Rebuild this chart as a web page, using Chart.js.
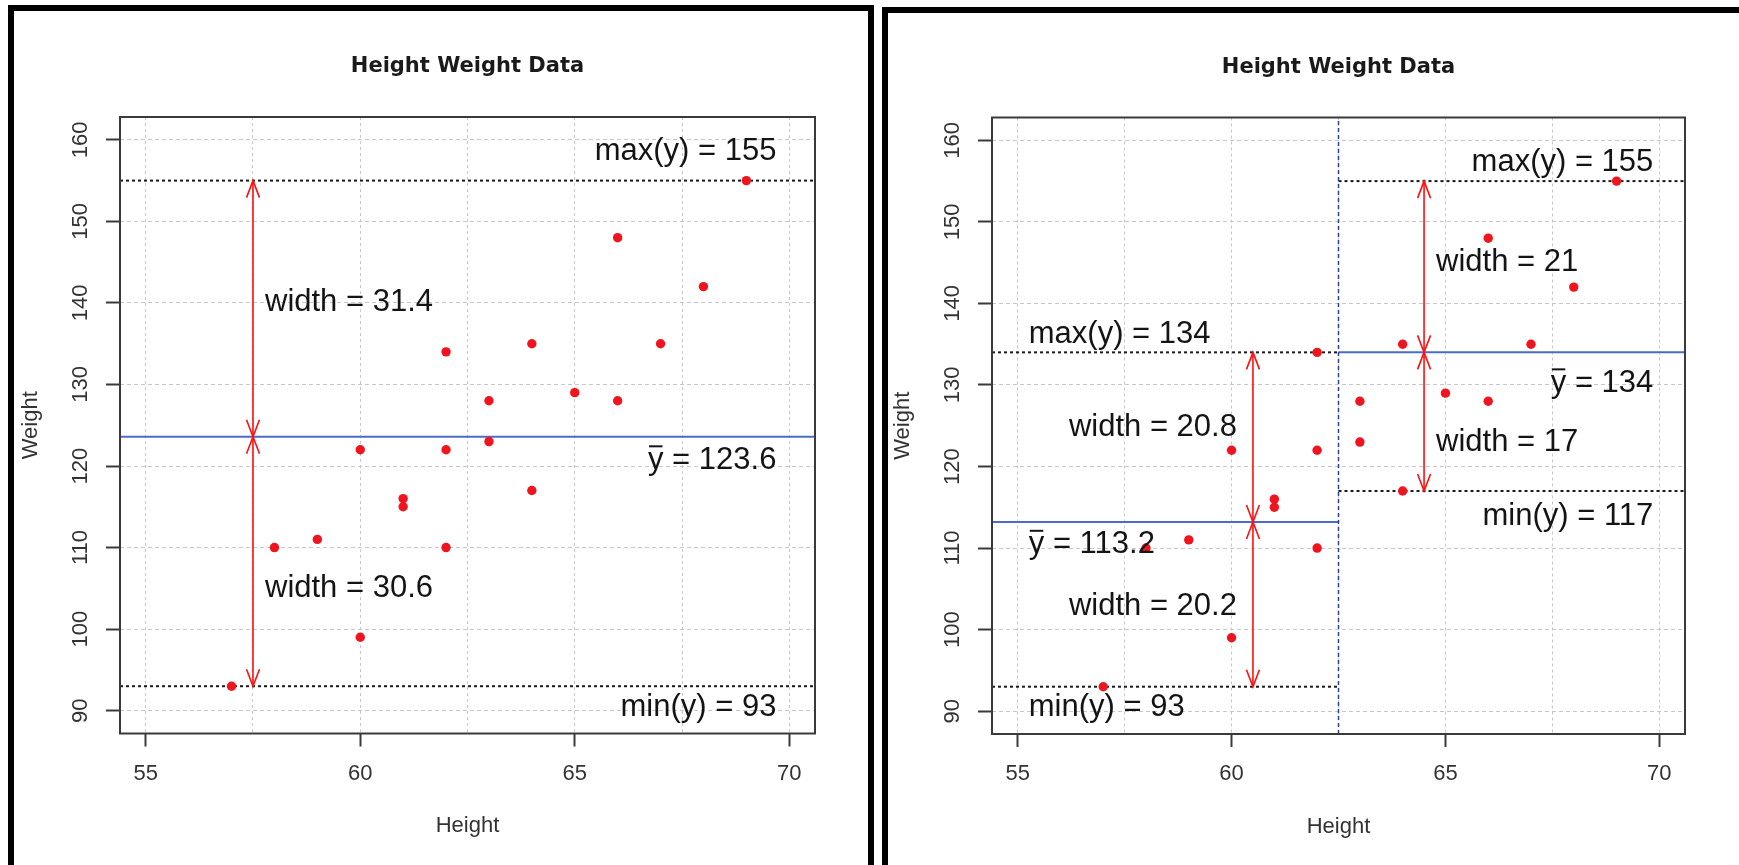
<!DOCTYPE html>
<html>
<head>
<meta charset="utf-8">
<title>Height Weight Data</title>
<script src="https://cdn.jsdelivr.net/npm/chart.js@4.4.1/dist/chart.umd.min.js"></script>
<style>
    html, body { margin: 0; padding: 0; background: #fff; overflow: hidden; }
    body { width: 1739px; height: 865px; position: relative; }
    .panel { position: absolute; border: 6px solid #000; box-sizing: border-box; }
    #leftPanel { left: 8px; top: 5px; width: 866px; height: 900px; }
    #rightPanel { left: 882px; top: 7px; width: 900px; height: 900px; }
    canvas { position: absolute; left: 0; top: 0; }
</style>
</head>
<body>
<div class="panel" id="leftPanel"><canvas id="leftChart" width="854" height="854"></canvas></div>
<div class="panel" id="rightPanel"><canvas id="rightChart" width="851" height="852"></canvas></div>
<script>
// 身高体重样本
const heights = [57, 58, 59, 60, 60, 61, 61, 62, 62, 62, 63, 63, 64, 64, 65, 66, 66, 67, 68, 69];
const weights = [93, 110, 111, 122, 99, 116, 115, 134, 122, 110, 128, 123, 135, 117, 129, 148, 128, 135, 142, 155];

// 坐标轴范围和刻度间隔
const xRange = [54.4, 70.6];
const yRange = [87.2, 162.8];
const xGridStep = 2.5;
const xLabelStep = 5;
const yTickStep = 10;

// 右图按身高分组的位置
const splitHeight = 62.5;

const FONT = '"Liberation Sans", Arial, sans-serif';

// 计算某一身高区间内体重的最大、最小和均值
function groupStats(from, to) {
    const vals = weights.filter((w, i) => heights[i] >= from && heights[i] < to);
    const sum = vals.reduce((a, b) => a + b, 0);
    return { max: Math.max(...vals), min: Math.min(...vals), mean: sum / vals.length };
}

// 保留一位小数，去掉多余的 .0
function fmt(v) {
    return String(Math.round(v * 10) / 10);
}

// 左图：全部样本
const leftGroups = [{
    from: xRange[0], to: xRange[1], arrowX: 57.5,
    maxLabel: { x: 69.7, y: 158.6, align: 'right' },
    meanLabel: { x: 69.7, y: 120.7, align: 'right' },
    minLabel: { x: 69.7, y: 90.4, align: 'right' },
    widthSide: 'right', upWidthY: 140, downWidthY: 105
}];

// 右图：以 62.5 为界分成两组
const rightGroups = [{
    from: xRange[0], to: splitHeight, arrowX: 60.5,
    maxLabel: { x: 55.26, y: 136.2, align: 'left' },
    meanLabel: { x: 55.26, y: 110.4, align: 'left' },
    minLabel: { x: 55.26, y: 90.4, align: 'left' },
    widthSide: 'left', upWidthY: 124.8, downWidthY: 102.8
}, {
    from: splitHeight, to: xRange[1], arrowX: 64.5,
    maxLabel: { x: 69.86, y: 157.3, align: 'right' },
    meanLabel: { x: 69.86, y: 130.2, align: 'right' },
    minLabel: { x: 69.86, y: 113.9, align: 'right' },
    widthSide: 'right', upWidthY: 145, downWidthY: 123
}];

leftGroups.concat(rightGroups).forEach(g => { g.stats = groupStats(g.from, g.to); });

// 水平参考线（两点连线）
function hline(from, to, v, color, dash) {
    return {
        data: [{ x: from, y: v }, { x: to, y: v }],
        showLine: true, pointRadius: 0, borderColor: color,
        borderWidth: 2, borderDash: dash, fill: false
    };
}

function refLines(groups) {
    const sets = [];
    groups.forEach(g => {
        sets.push(hline(g.from, g.to, g.stats.max, '#1a1a1a', [3, 3]));
        sets.push(hline(g.from, g.to, g.stats.min, '#1a1a1a', [3, 3]));
        sets.push(hline(g.from, g.to, g.stats.mean, '#4a6bc8', []));
    });
    return sets;
}

// 两端都带开口箭头的竖线
function arrowHead(ctx, px, tip, tail) {
    const dir = tail > tip ? 1 : -1;
    ctx.beginPath();
    ctx.moveTo(px - 6.5, tip + dir * 17);
    ctx.lineTo(px, tip);
    ctx.lineTo(px + 6.5, tip + dir * 17);
    ctx.stroke();
}

function drawArrow(ctx, px, yFrom, yTo) {
    ctx.beginPath();
    ctx.moveTo(px, yFrom);
    ctx.lineTo(px, yTo);
    ctx.stroke();
    arrowHead(ctx, px, yFrom, yTo);
    arrowHead(ctx, px, yTo, yFrom);
}

// 文字标注，bar 为真时在首字母 y 上加横线
function drawText(ctx, text, px, py, align, bar) {
    const w = ctx.measureText(text).width;
    const x0 = align === 'right' ? px - w : px;
    ctx.textAlign = 'left';
    ctx.textBaseline = 'middle';
    ctx.fillText(text, x0, py);
    if (bar) {
        const yw = ctx.measureText('y').width;
        ctx.save();
        ctx.strokeStyle = ctx.fillStyle;
        ctx.lineWidth = 2;
        ctx.beginPath();
        ctx.moveTo(x0 + 1, py - 14);
        ctx.lineTo(x0 + yw - 1, py - 14);
        ctx.stroke();
        ctx.restore();
    }
}

function overlay(groups) {
    return {
        id: 'overlay',
        afterDraw(chart) {
            const { ctx, chartArea: area, scales: { x, y } } = chart;
            ctx.save();

            // 坐标框
            ctx.strokeStyle = '#3a3a3a';
            ctx.lineWidth = 2;
            ctx.strokeRect(area.left, area.top, area.right - area.left, area.bottom - area.top);

            // y 轴刻度文字（竖排）
            ctx.fillStyle = '#333';
            ctx.font = '22px ' + FONT;
            ctx.textAlign = 'center';
            ctx.textBaseline = 'middle';
            y.ticks.forEach(t => {
                ctx.save();
                ctx.translate(area.left - 39, y.getPixelForValue(t.value));
                ctx.rotate(-Math.PI / 2);
                ctx.fillText(String(t.value), 0, 0);
                ctx.restore();
            });

            groups.forEach(g => {
                const s = g.stats;
                const ax = x.getPixelForValue(g.arrowX);
                const pMean = y.getPixelForValue(s.mean);

                ctx.strokeStyle = '#ff1010';
                ctx.lineWidth = 1.6;
                drawArrow(ctx, ax, pMean, y.getPixelForValue(s.max));
                drawArrow(ctx, ax, pMean, y.getPixelForValue(s.min));

                ctx.font = '31px ' + FONT;
                ctx.fillStyle = '#141414';
                const put = (lab, text, bar) =>
                    drawText(ctx, text, x.getPixelForValue(lab.x), y.getPixelForValue(lab.y), lab.align, bar);
                put(g.maxLabel, 'max(y) = ' + fmt(s.max), false);
                put(g.meanLabel, 'y = ' + fmt(s.mean), true);
                put(g.minLabel, 'min(y) = ' + fmt(s.min), false);

                const wx = g.widthSide === 'right' ? ax + 12 : ax - 16;
                const wAlign = g.widthSide === 'right' ? 'left' : 'right';
                drawText(ctx, 'width = ' + fmt(s.max - s.mean), wx, y.getPixelForValue(g.upWidthY), wAlign, false);
                drawText(ctx, 'width = ' + fmt(s.mean - s.min), wx, y.getPixelForValue(g.downWidthY), wAlign, false);
            });
            ctx.restore();
        }
    };
}

// geom: 画布内绘图区的位置
function makeChart(canvasId, groups, extraSets, geom) {
    const canvas = document.getElementById(canvasId);
    const W = canvas.width, H = canvas.height;
    const xAxisH = H - geom.bottom;
    const titleLine = 21 * 1.2;
    const titleTop = geom.titleY - titleLine / 2;

    const points = {
        data: heights.map((h, i) => ({ x: h, y: weights[i] })),
        backgroundColor: '#f0141e', borderWidth: 0, pointRadius: 4.7
    };

    new Chart(canvas.getContext('2d'), {
        type: 'scatter',
        data: { datasets: [points].concat(extraSets, refLines(groups)) },
        options: {
            responsive: false,
            animation: false,
            events: [],
            layout: { padding: { left: 0, top: 0, right: W - geom.right, bottom: 0 } },
            plugins: {
                legend: { display: false },
                tooltip: { enabled: false },
                title: {
                    display: true, text: 'Height Weight Data', fullSize: false, color: '#1a1a1a',
                    font: { family: '"DejaVu Sans", sans-serif', size: 21, weight: 'bold' },
                    padding: { top: titleTop, bottom: geom.top - titleTop - titleLine }
                }
            },
            scales: {
                x: {
                    type: 'linear', min: xRange[0], max: xRange[1],
                    afterFit: s => { s.height = xAxisH; },
                    ticks: {
                        stepSize: xGridStep, includeBounds: false, autoSkip: false, maxRotation: 0,
                        padding: 14, color: '#333', font: { family: FONT, size: 22 },
                        callback: v => (v % xLabelStep === 0 ? String(v) : '')
                    },
                    grid: {
                        color: '#c8c8c8', lineWidth: 1, tickLength: 13, tickWidth: 2,
                        tickColor: c => (c.tick && c.tick.value % xLabelStep === 0 ? '#3a3a3a' : 'rgba(0,0,0,0)')
                    },
                    border: { display: false, dash: [3, 3] },
                    title: {
                        display: true, text: 'Height', color: '#333', font: { family: FONT, size: 22 },
                        padding: { top: 0, bottom: xAxisH - 92.5 - 13.2 }
                    }
                },
                y: {
                    type: 'linear', min: yRange[0], max: yRange[1],
                    afterFit: s => { s.width = geom.left; },
                    ticks: { stepSize: yTickStep, includeBounds: false, display: false },
                    grid: { color: '#c8c8c8', lineWidth: 1, tickLength: 14, tickWidth: 2, tickColor: '#3a3a3a' },
                    border: { display: false, dash: [4, 3] },
                    title: {
                        display: true, text: 'Weight', color: '#333', font: { family: FONT, size: 22 },
                        padding: { top: geom.left - 89 - 13.2, bottom: 0 }
                    }
                }
            }
        },
        plugins: [overlay(groups)]
    });
}

// 右图分组的竖直虚线
const splitLine = {
    data: [{ x: splitHeight, y: yRange[0] }, { x: splitHeight, y: yRange[1] }],
    showLine: true, pointRadius: 0, borderColor: '#2f3f9f', borderWidth: 1.5, borderDash: [4, 3], fill: false
};

makeChart('leftChart', leftGroups, [], { left: 106, right: 801, top: 106, bottom: 722.5, titleY: 56 });
makeChart('rightChart', rightGroups, [splitLine], { left: 104, right: 797, top: 104.5, bottom: 721, titleY: 55 });
</script>
</body>
</html>
